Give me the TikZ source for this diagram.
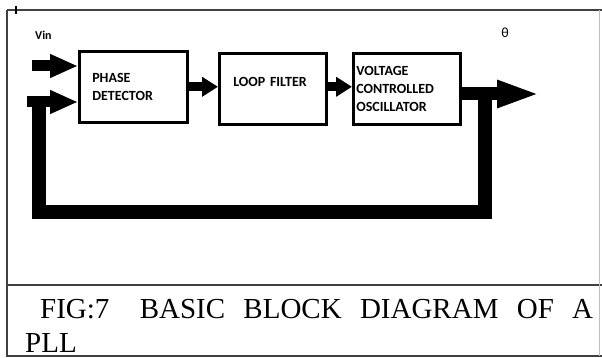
\documentclass[tikz,border=0pt]{standalone}
\usepackage{fontspec}
\setmainfont{Liberation Serif}
\newfontfamily\blockfont{Carlito}
\usepackage{tikz}
\usetikzlibrary{arrows.meta}

\begin{document}
\begin{tikzpicture}[x=1pt,y=-1pt,
  block/.style={draw=black, line width=2.6pt, anchor=north west, align=left,
    minimum height=71pt, inner ysep=0pt, font=\blockfont\bfseries\fontsize{14}{18}\selectfont},
  inarrow/.style={line width=11pt, -{Triangle[length=28pt,width=22pt]}},
  midarrow/.style={line width=9pt, -{Triangle[length=16pt,width=19pt]}},
  outarrow/.style={line width=13pt, -{Triangle[length=43pt,width=25pt]}},
  fbloop/.style={line width=14pt, line join=miter},
  frame/.style={draw=black!75, line width=1.5pt},
  caption/.style={anchor=base west, inner sep=0pt, font=\fontsize{29}{35}\selectfont}]
\useasboundingbox (0,0) rectangle (602,358);
\fill[white] (0,0) rectangle (602,358);
\draw[frame] (7,10) -- (602,10);
\draw[frame] (7,10) -- (7,357);
\draw[frame] (7,285) -- (602,285);
\draw[frame] (7,356) -- (602,356);
\draw[draw=black!25, line width=1pt] (599,10) -- (599,356);
\draw[black, line width=1.4pt] (16,6) -- (16,14);
\node[block, text width=82pt, inner xsep=13pt] (pd) at (78,50) {PHASE\\DETECTOR};
\node[block, text width=79pt, inner xsep=14pt, text depth=14pt] (lf) at (218,52) {LOOP FILTER};
\node[block, text width=101pt, inner xsep=3pt] (vco) at (352,52) {VOLTAGE\\CONTROLLED\\OSCILLATOR};
\node[anchor=west, font=\blockfont\bfseries\fontsize{12}{14}\selectfont, inner sep=0pt] (vin) at (35,35) {Vin};
\node[font=\blockfont\fontsize{14}{16}\selectfont, inner sep=0pt] (theta) at (505,33) {θ};
\coordinate (vinstart) at (32,66);
\coordinate (fbc) at (39,102);
\coordinate (tap) at (485,94);
\coordinate (out) at (540,94);
\draw[inarrow] (vinstart) -- (pd.west |- vinstart);
\draw[midarrow] (pd.east) -- (lf.west |- pd.east);
\draw[midarrow] ([yshift=2pt]lf.east) -- ([yshift=2pt]vco.west);
\draw[outarrow] (vco.east |- out) -- (out);
\draw[fbloop] (tap) -- (485,212) -- (39,212) -- ([yshift=-5pt]fbc);
\draw[inarrow] ([xshift=-12pt]fbc) -- (pd.west |- fbc);
\node[caption] (cap1) at (40,318)
  {\makebox[553pt][s]{FIG:7\hspace{12pt} BASIC BLOCK DIAGRAM OF A}};
\node[caption] (cap2) at (25,352) {PLL};
\end{tikzpicture}
\end{document}
